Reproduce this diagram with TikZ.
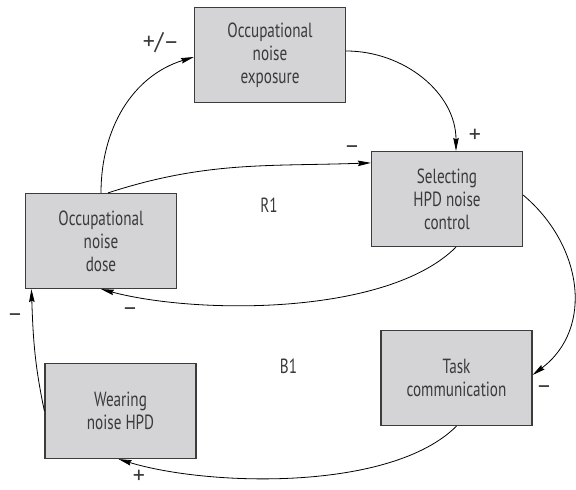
\documentclass[tikz,border=0pt]{standalone}
\usepackage{fontspec}
\setmainfont{PT Sans}[FakeStretch=0.74]
\newfontfamily\signfont{PT Sans}
\usetikzlibrary{arrows.meta,calc}
\definecolor{boxfill}{RGB}{212,212,214}
\definecolor{boxline}{RGB}{60,60,60}
\definecolor{inktext}{RGB}{58,58,58}

\begin{document}
\begin{tikzpicture}[x=1pt,y=1pt,font=\fontsize{20.5}{23}\selectfont]
\tikzset{
  varbox/.style={draw=boxline, fill=boxfill, line width=1.2pt, minimum width=151pt, minimum height=95pt, inner sep=0pt, align=center, text=inktext},
  link/.style={draw=black, line width=0.8pt, -{Stealth[length=13pt,width=5.5pt,inset=1.5pt]}},
  sign/.style={inner sep=0pt, text=inktext, font=\signfont\fontsize{24}{26}\selectfont},
  loopname/.style={inner sep=0pt, text=inktext}
}
\useasboundingbox (0,0) rectangle (576,490);
% variables
\node[varbox] (exp) at (270,435) {Occupational\\noise\\exposure};
\node[varbox] (sel) at (447,291) {Selecting\\HPD noise\\control};
\node[varbox] (dose) at (101,249) {Occupational\\noise\\dose};
\node[varbox] (wear) at (120.5,79) {Wearing\\noise HPD};
\node[varbox] (task) at (456.5,112) {Task\\communication};
% links
\draw[link] (dose.north) to[out=90,in=197] ([yshift=-2pt]exp.west);
\draw[link] ([yshift=4pt]exp.east) to[out=0,in=90] ([xshift=9pt]sel.north);
\draw[link] ([xshift=7pt]dose.north) to[out=18,in=182] ([yshift=-12pt]sel.north west);
\draw[link] ([xshift=9pt]sel.south) to[out=225,in=-15,looseness=0.7] (dose.south);
\draw[link] ([yshift=4pt]sel.east) to[out=-40,in=37,looseness=1.1] ([yshift=3pt]task.east);
\draw[link] (task.south) to[out=225,in=-17,looseness=0.7] ([xshift=-2pt]wear.south);
\draw[link] (wear.west) to[out=102,in=-88] ([xshift=6.5pt]dose.south west);
% polarities
\node[sign] (s1) at (161,447) {+/–};
\node[sign] (s2) at (475,354) {+};
\node[sign] (s3) at (352,340) {–};
\node[sign] (s4) at (130,178) {–};
\node[sign] (s5) at (15,172) {–};
\node[sign] (s6) at (139,13) {+};
\node[sign] (s7) at (544,100) {–};
% loops
\node[loopname] (r1) at (269,285) {R1};
\node[loopname] (b1) at (288.5,124) {B1};
\end{tikzpicture}
\end{document}
